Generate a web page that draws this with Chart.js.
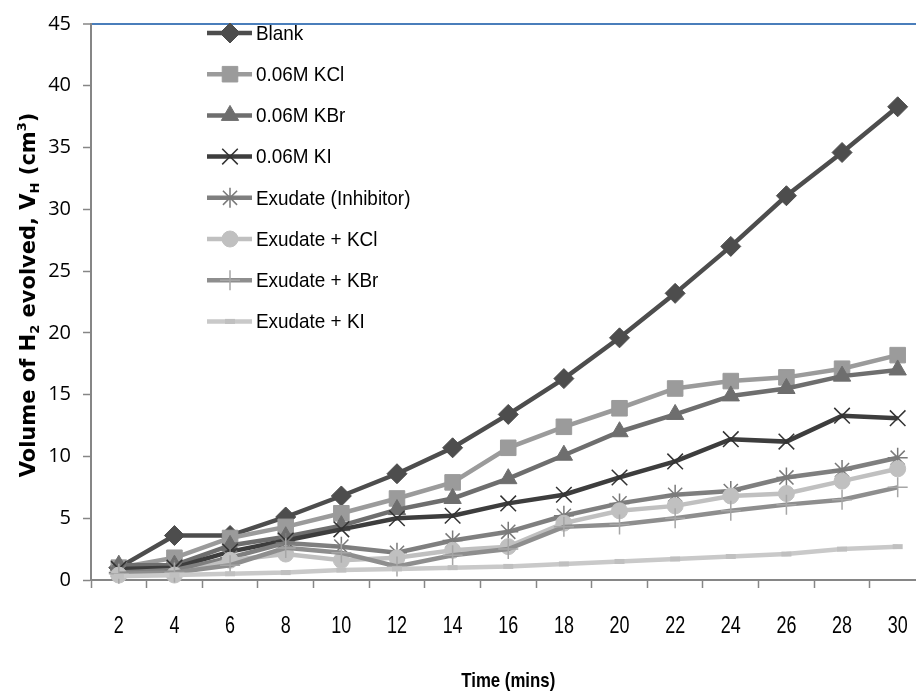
<!DOCTYPE html>
<html>
<head>
<meta charset="utf-8">
<script src="https://cdn.jsdelivr.net/npm/chart.js@4/dist/chart.umd.min.js"></script>
<style>
html,body{margin:0;padding:0;background:#fff;overflow:hidden;width:916px;height:692px;}
#wrap{position:absolute;left:0;top:0;width:938px;height:692px;}
</style>
</head>
<body>
<div id="wrap"><canvas id="c" width="938" height="692"></canvas></div>
<script>
// ---- data ----
const times = ['2','4','6','8','10','12','14','16','18','20','22','24','26','28','30'];
const seriesNames = ['Blank','0.06M KCl','0.06M KBr','0.06M KI','Exudate (Inhibitor)','Exudate + KCl','Exudate + KBr','Exudate + KI'];
const blank  = [1.0, 3.6, 3.6, 5.1, 6.8, 8.6, 10.7, 13.4, 16.3, 19.6, 23.2, 27.0, 31.1, 34.6, 38.3];
const kcl    = [1.0, 1.8, 3.4, 4.3, 5.4, 6.6, 7.9, 10.7, 12.4, 13.9, 15.5, 16.1, 16.4, 17.1, 18.2];
const kbr    = [1.2, 1.2, 2.8, 3.5, 4.4, 5.7, 6.6, 8.2, 10.1, 12.0, 13.4, 14.9, 15.5, 16.5, 17.0];
const ki     = [0.9, 1.0, 2.3, 3.2, 4.1, 5.0, 5.2, 6.2, 6.9, 8.3, 9.6, 11.4, 11.2, 13.3, 13.1];
const exu    = [0.6, 0.8, 1.8, 3.0, 2.7, 2.2, 3.2, 3.9, 5.2, 6.2, 6.9, 7.2, 8.3, 8.9, 9.9];
const exuKCl = [0.4, 0.4, 1.6, 2.1, 1.6, 1.8, 2.4, 2.7, 4.6, 5.6, 6.0, 6.8, 7.0, 8.0, 9.0];
const exuKBr = [0.5, 0.6, 1.2, 2.6, 2.2, 1.1, 2.0, 2.5, 4.3, 4.5, 5.0, 5.6, 6.1, 6.5, 7.5];
const exuKI  = [0.3, 0.4, 0.5, 0.6, 0.8, 0.9, 1.0, 1.1, 1.3, 1.5, 1.7, 1.9, 2.1, 2.5, 2.7];
const yTicks = [0,5,10,15,20,25,30,35,40,45];

// ---- styles ----
const values = [blank,kcl,kbr,ki,exu,exuKCl,exuKBr,exuKI];
const lineColors = ['#4d4d4d','#9b9b9b','#6e6e6e','#3d3d3d','#7f7f7f','#c0c0c0','#8e8e8e','#c9c9c9'];
const markColors = ['#4d4d4d','#9b9b9b','#6e6e6e','#333333','#7a7a7a','#c0c0c0','#a6a6a6','#c0c0c0'];
const styles = ['rectRot','rect','triangle','crossRot','star','circle','cross','line'];
const radii = [10,11,10,11,10,8,10,5];
const pbw = [1,1,1,1.5,1.5,1,1.5,5];
const NARROW = '"Liberation Sans", Arial, sans-serif';

const datasets = values.map((v,i)=>({
  label: seriesNames[i],
  data: v,
  borderColor: lineColors[i],
  backgroundColor: markColors[i],
  pointBackgroundColor: markColors[i],
  pointBorderColor: markColors[i],
  pointStyle: styles[i],
  pointRadius: radii[i],
  pointBorderWidth: pbw[i],
  borderWidth: 4.5,
  tension: 0,
  clip: false,
  order: values.length - i
}));

function narrowText(ctx, text, x, y, sx, align){
  ctx.save();
  const w = ctx.measureText(text).width * sx;
  let x0 = x;
  if (align === 'center') x0 = x - w/2;
  else if (align === 'right') x0 = x - w;
  ctx.translate(x0, y);
  ctx.scale(sx, 1);
  ctx.textAlign = 'left';
  ctx.fillText(text, 0, 0);
  ctx.restore();
}

const legendPlugin = {
  id: 'insideLegend',
  afterDatasetsDraw(chart){
    const ctx = chart.ctx;
    ctx.save();
    chart.data.datasets.forEach((ds,i)=>{
      const y = 33 + i*41.2;
      ctx.strokeStyle = ds.borderColor;
      ctx.lineWidth = 4.5;
      ctx.beginPath(); ctx.moveTo(207,y); ctx.lineTo(252,y); ctx.stroke();
      ctx.fillStyle = ds.pointBackgroundColor;
      ctx.strokeStyle = ds.pointBorderColor;
      ctx.lineWidth = ds.pointBorderWidth;
      Chart.helpers.drawPoint(ctx,{pointStyle: ds.pointStyle, radius: ds.pointRadius, rotation: 0, borderWidth: ds.pointBorderWidth},230,y);
      ctx.fillStyle = '#000';
      ctx.font = '21px ' + NARROW;
      ctx.textBaseline = 'middle';
      narrowText(ctx, ds.label, 256, y+1, 0.9, 'left');
    });
    ctx.restore();
  }
};

const titlePlugin = {
  id: 'axisTitles',
  afterDraw(chart){
    const ctx = chart.ctx;
    // x tick labels (positions from the category scale)
    const xs = chart.scales.x;
    ctx.save();
    ctx.fillStyle = '#000';
    ctx.font = '23px ' + NARROW;
    ctx.textBaseline = 'middle';
    chart.data.labels.forEach((lab,i)=>{
      narrowText(ctx, lab, xs.getPixelForValue(i), 627, 0.78, 'center');
    });
    ctx.restore();
    // y title with sub/superscripts
    ctx.save();
    const segs = [['Volume of H',0],['2',1],[' evolved, V',0],['H',1],[' (cm',0],['3',2],[')',0]];
    const big = 'bold 21px "DejaVu Sans", sans-serif';
    const small = 'bold 13px "DejaVu Sans", sans-serif';
    let total = 0;
    segs.forEach(s=>{ ctx.font = s[1] ? small : big; total += ctx.measureText(s[0]).width; });
    ctx.translate(35, 295);
    ctx.rotate(-Math.PI/2);
    ctx.fillStyle = '#000';
    ctx.textBaseline = 'alphabetic';
    ctx.textAlign = 'left';
    let x = -total/2;
    segs.forEach(s=>{
      ctx.font = s[1] ? small : big;
      const dy = s[1]===1 ? 4 : (s[1]===2 ? -9 : 0);
      ctx.fillText(s[0], x, dy);
      x += ctx.measureText(s[0]).width;
    });
    ctx.restore();
    // x title
    ctx.save();
    ctx.fillStyle = '#000';
    ctx.font = 'bold 21px ' + NARROW;
    ctx.textBaseline = 'middle';
    const ca = chart.chartArea;
    narrowText(ctx, 'Time (mins)', (ca.left+ca.right)/2, 681, 0.8, 'center');
    ctx.restore();
  }
};

new Chart(document.getElementById('c'), {
  type: 'line',
  data: { labels: times, datasets },
  options: {
    responsive: false,
    animation: false,
    devicePixelRatio: 1,
    layout: { padding: { left: 0, right: 4, top: 17, bottom: 0 } },
    plugins: { legend: { display: false }, tooltip: { enabled: false } },
    scales: {
      x: {
        type: 'category',
        offset: true,
        border: { color: '#868686', width: 2 },
        grid: { offset: true, drawOnChartArea: false, drawTicks: true, tickLength: 8, tickColor: '#868686', tickWidth: 1.5 },
        ticks: { color: 'rgba(0,0,0,0)', font: { family: NARROW, size: 22 }, padding: 26, maxRotation: 0, autoSkip: false },
        afterFit(s){ s.height = 112; }
      },
      y: {
        min: 0, max: 45,
        afterBuildTicks(s){ s.ticks = yTicks.map(v=>({value:v})); },
        border: { color: '#868686', width: 2 },
        grid: {
          drawTicks: true, tickLength: 8, tickColor: '#868686', tickWidth: 1.5,
          color: c => (c.tick && c.tick.value === 45) ? '#4a7ebb' : 'rgba(0,0,0,0)',
          lineWidth: c => (c.tick && c.tick.value === 45) ? 2 : 1
        },
        ticks: { color: '#000', font: { family: '"Open Sans", sans-serif', size: 20 }, padding: 12 },
        afterFit(s){ s.width = 91; }
      }
    }
  },
  plugins: [legendPlugin, titlePlugin]
});
</script>
</body>
</html>
